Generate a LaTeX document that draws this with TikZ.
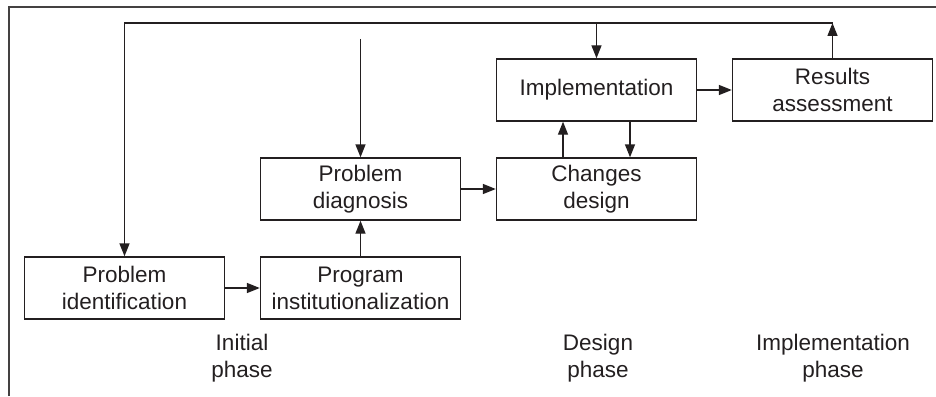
\documentclass[tikz,border=0pt]{standalone}
\usepackage{fontspec}
\setmainfont{Liberation Sans}
\usetikzlibrary{arrows.meta}
\definecolor{ink}{HTML}{231F20}
\begin{document}
\begin{tikzpicture}[x=1pt,y=-1pt,
  every node/.style={text=ink,font=\fontsize{22.5}{27}\selectfont,align=center},
  stepbox/.style={draw=ink,line width=1.4pt,minimum width=200pt,minimum height=62pt,inner sep=0pt},
  conn/.style={draw=ink,line width=1.4pt,-{Triangle[length=13pt,width=10pt]}},
  frame/.style={draw=ink!85,line width=1.2pt}]
\useasboundingbox (0,0) rectangle (936,396);
\draw[frame] (9,396) -- (9,7) -- (936,7);
\node[stepbox] (pi) at (124.5,288) {Problem\\identification};
\node[stepbox] (pg) at (360.5,288) {Program\\institutionalization};
\node[stepbox] (pd) at (360.5,189) {Problem\\diagnosis};
\node[stepbox] (cd) at (596.5,189) {Changes\\design};
\node[stepbox] (im) at (596.5,90) {Implementation};
\node[stepbox] (ra) at (832.5,90) {Results\\assessment};
\node (l1) at (242,358) {Initial\\phase};
\node (l2) at (598,358) {Design\\phase};
\node (l3) at (833,358) {Implementation\\phase};
\coordinate (tr) at (832.5,23);
\coordinate (tl) at (124.5,23);
\coordinate (pdin) at (360.5,39);
\draw[conn] (ra.north) -- (tr);
\draw[conn] (tr) -- (tl) -- (pi.north);
\draw[conn] (im.north |- tr) -- (im.north);
\draw[conn] (pdin) -- (pd.north);
\draw[conn] (pi.east) -- (pg.west);
\draw[conn] (pg.north) -- (pd.south);
\draw[conn] (pd.east) -- (cd.west);
\draw[conn] ([xshift=-33.5pt]cd.north) -- ([xshift=-33.5pt]im.south);
\draw[conn] ([xshift=33.5pt]im.south) -- ([xshift=33.5pt]cd.north);
\draw[conn] (im.east) -- (ra.west);
\end{tikzpicture}
\end{document}
